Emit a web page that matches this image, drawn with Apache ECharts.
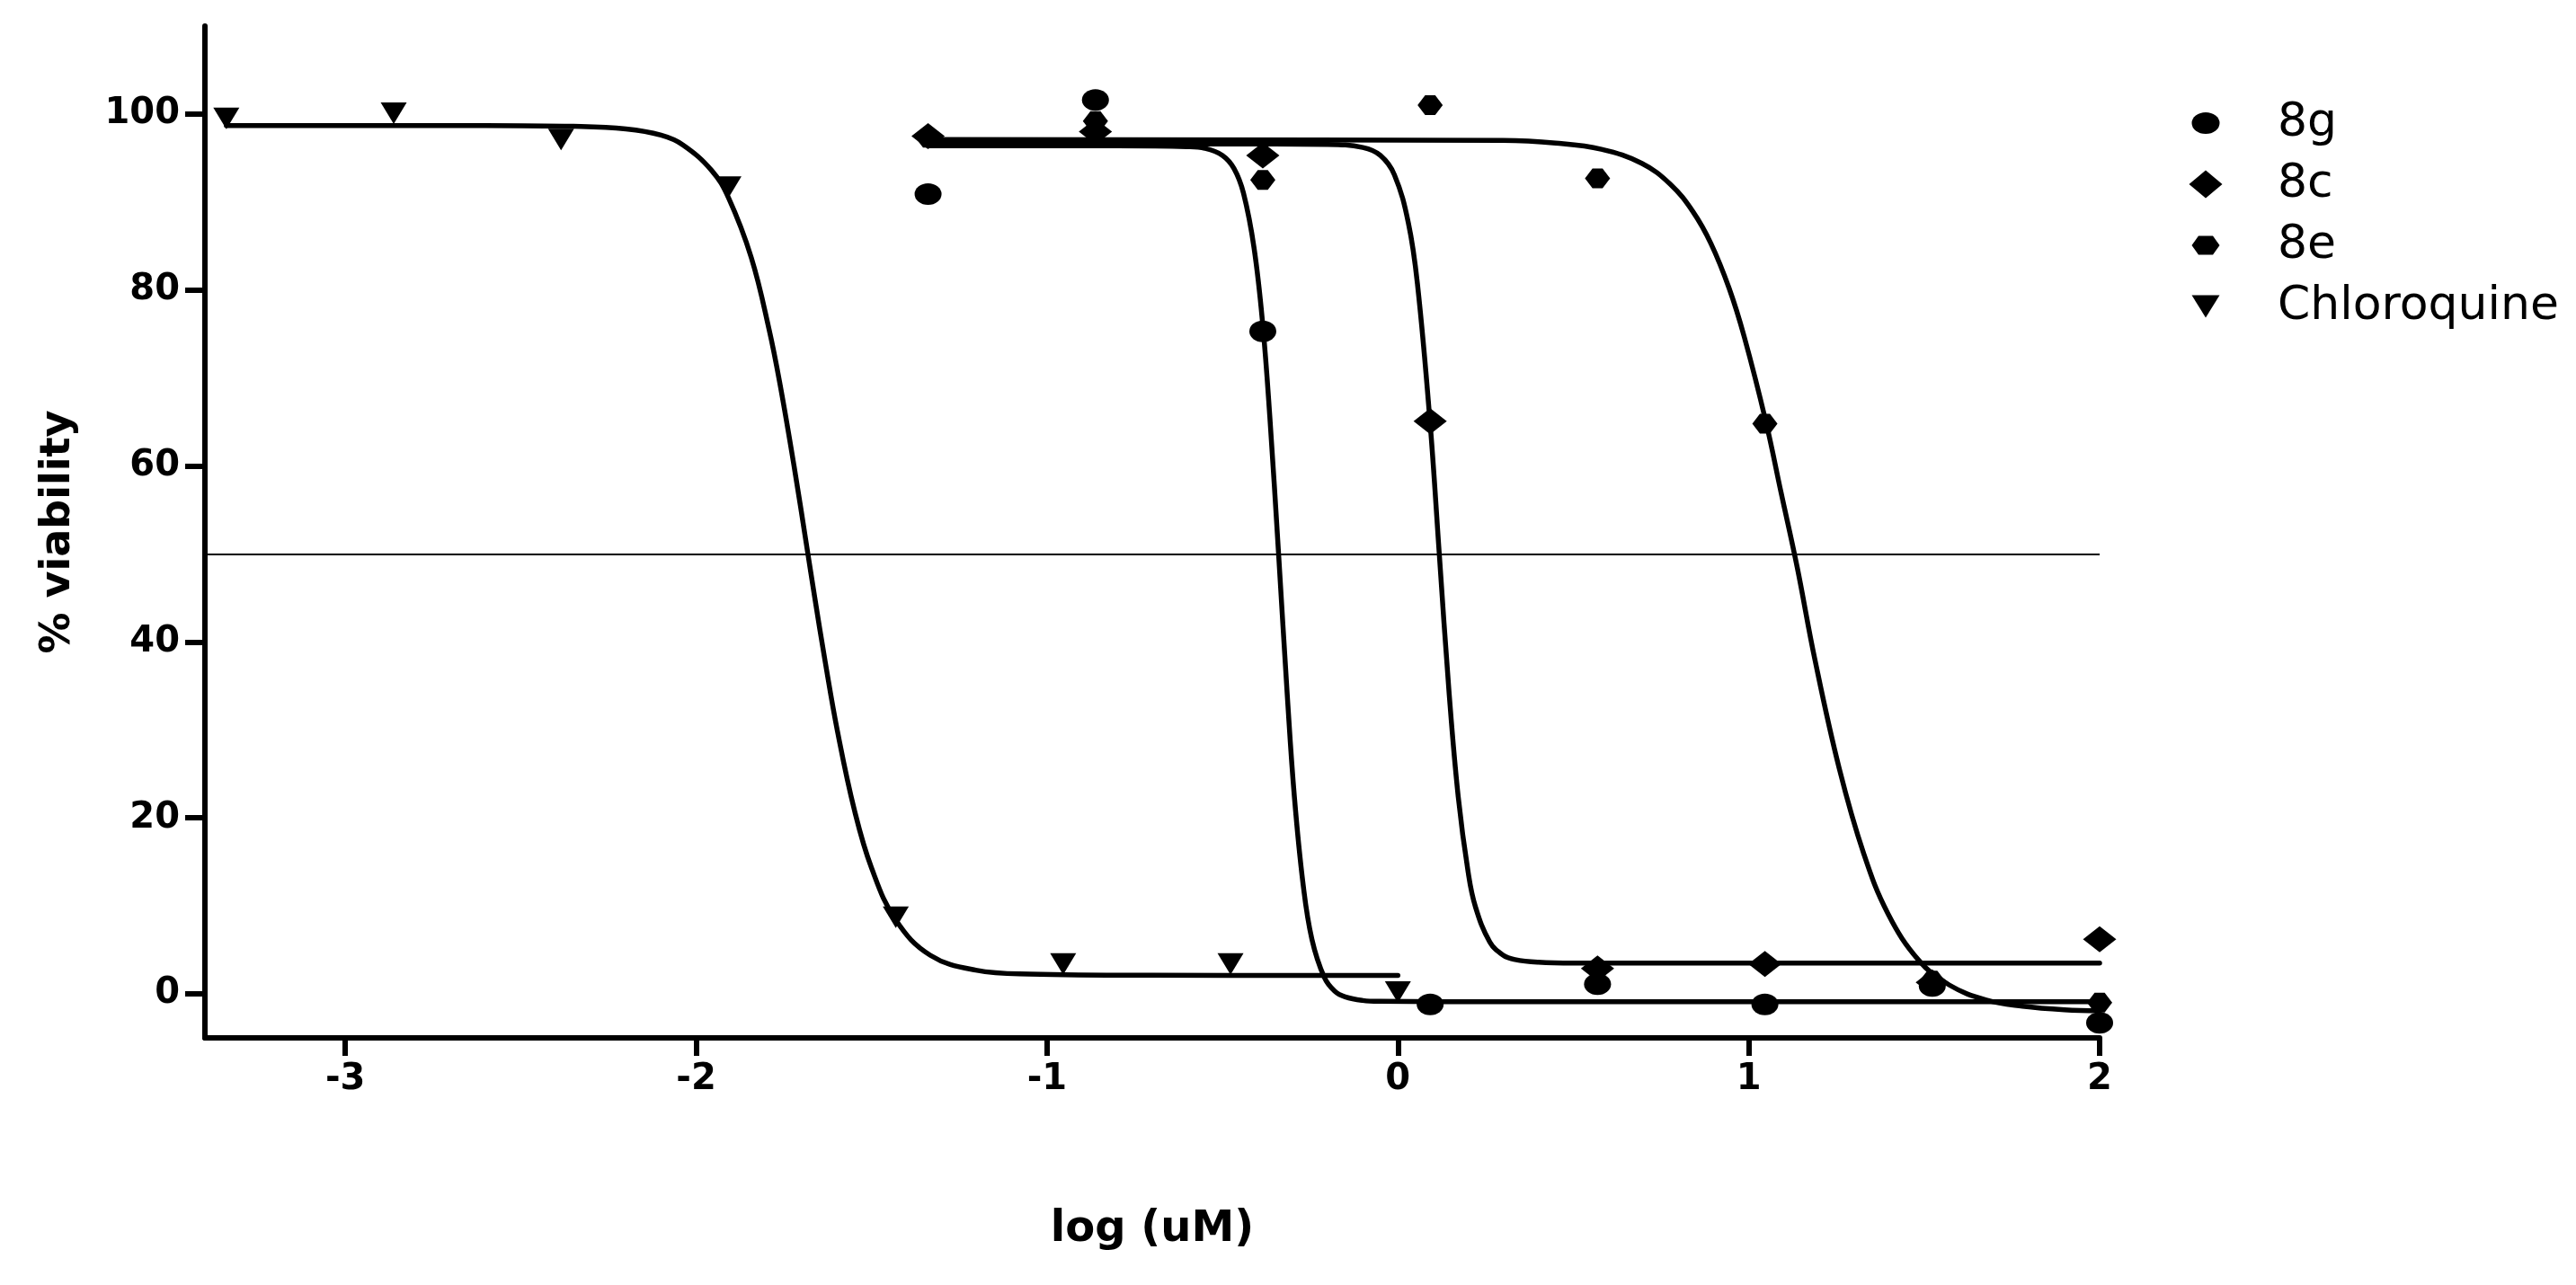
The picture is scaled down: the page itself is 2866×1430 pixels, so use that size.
<!DOCTYPE html>
<html><head><meta charset="utf-8">
<script src="https://cdn.jsdelivr.net/npm/echarts@6/dist/echarts.min.js"></script>
<style>html,body{margin:0;padding:0;background:#fff}#c{width:2866px;height:1430px}</style>
</head><body><div id="c"></div>
<script>
// ---- data ----
const seriesNames = ['8g', '8c', '8e', 'Chloroquine'];
const logConc = [-1.339, -0.862, -0.385, 0.092, 0.569, 1.046, 1.523, 2.0];
const chloroLogConc = [-3.339, -2.862, -2.385, -1.908, -1.431, -0.954, -0.477, 0];
const viab8g = [90.9, 101.6, 75.3, -1.2, 1.1, -1.2, 0.9, -3.3];
const viab8c = [97.5, 98.0, 95.3, 65.1, 2.9, 3.4, 1.3, 6.2];
const viab8e = [97.3, 99.2, 92.5, 101.0, 92.7, 64.8, 1.5, -1.0];
const viabChloro = [99.5, 100.1, 97.1, 91.7, 8.7, 3.4, 3.4, 0.2];

// fitted curves, points
const fit8g = [[-1.339,96.4],[-0.8,96.4],[-0.6,96.3],[-0.55,96.1],[-0.5,95.3],[-0.467,93.8],[-0.44,91.0],[-0.41,84.8],[-0.385,76.0],[-0.365,65.6],[-0.34,50],[-0.315,33.8],[-0.295,22.4],[-0.27,12.4],[-0.245,6.2],[-0.21,1.9],[-0.18,0.3],[-0.15,-0.35],[-0.1,-0.75],[-0.05,-0.85],[0.3,-0.9],[2.0,-0.9]];
const fit8c = [[-1.339,96.6],[-0.5,96.6],[-0.2,96.55],[-0.1,96.2],[-0.05,95.3],[-0.01,93.1],[0.03,87.6],[0.056,80.6],[0.092,64.8],[0.118,50],[0.146,34.2],[0.172,22.4],[0.2,13.9],[0.221,9.9],[0.262,5.9],[0.3,4.4],[0.334,3.9],[0.4,3.6],[0.5,3.5],[2.0,3.5]];
const fit8e = [[-1.339,97.1],[0.3,97.0],[0.45,96.7],[0.58,96.0],[0.695,94.4],[0.777,92.0],[0.841,88.9],[0.892,85.3],[0.944,80.2],[0.987,74.7],[1.049,65.0],[1.092,57.0],[1.138,48.5],[1.188,38.1],[1.258,25.6],[1.328,15.9],[1.397,9.1],[1.485,3.8],[1.572,1.0],[1.677,-0.7],[1.78,-1.4],[1.9,-1.8],[2.0,-1.9]];
const fitChloro = [[-3.339,98.7],[-2.6,98.7],[-2.35,98.6],[-2.2,98.3],[-2.1,97.6],[-2.038,96.5],[-1.956,93.6],[-1.908,90.5],[-1.843,83.7],[-1.792,75.5],[-1.761,69.3],[-1.721,60.0],[-1.683,50.4],[-1.663,45.3],[-1.632,37.7],[-1.597,29.8],[-1.549,20.9],[-1.5,14.3],[-1.431,8.4],[-1.333,4.4],[-1.203,2.7],[-1.05,2.25],[-0.7,2.12],[0,2.1]];

const xTicks = [-3, -2, -1, 0, 1, 2];
const yTicks = [0, 20, 40, 60, 80, 100];
const halfLevel = 50;
const xTitle = 'log (uM)';
const yTitle = '% viability';

// ---- symbols ----
const symEllipse = 'path://M0,5 A5,5 0 1,1 10,5 A5,5 0 1,1 0,5 Z';
const symDiamond = 'path://M0,5 L5,0 L10,5 L5,10 Z';
const symHex = 'path://M0,5 L3,0 L7,0 L10,5 L7,10 L3,10 Z';
const symTri = 'path://M0,0 L10,0 L5,10 Z';
// legend icons on a common 40x32 frame
const legEllipse = 'path://M0,0 M40,32 M4.5,16 A15.5,12 0 1,1 35.5,16 A15.5,12 0 1,1 4.5,16 Z';
const legDiamond = 'path://M0,0 M40,32 M1.5,16 L20,0.5 L38.5,16 L20,31.5 Z';
const legHex = 'path://M0,0 M40,32 M4.5,16 L12,5.5 L28,5.5 L35.5,16 L28,26.5 L12,26.5 Z';
const legTri = 'path://M0,0 M40,32 M4.5,3.5 L35.5,3.5 L20,28.5 Z';

function pairs(xs, ys) { return xs.map((x, i) => [x, ys[i]]); }

const black = '#000';
function fitLine(name, data, extra) {
  return Object.assign({
    name: name, type: 'line', data: data, smooth: 0.4,
    showSymbol: false, symbol: 'none', silent: true, z: 2,
    lineStyle: { color: black, width: 5.5, cap: 'round', join: 'round', opacity: 1 }
  }, extra || {});
}
function pts(name, data, symbol, size) {
  return { name: name, type: 'scatter', data: data, symbol: symbol, symbolSize: size,
    itemStyle: { color: black, opacity: 1 }, z: 5, silent: true };
}

const chart = echarts.init(document.getElementById('c'), null, { renderer: 'canvas' });
chart.setOption({
  animation: false,
  backgroundColor: '#fff',
  grid: { left: 228, right: 530, top: 29, bottom: 275 },
  xAxis: {
    type: 'value', min: -3.4, max: 2,
    axisLine: { onZero: false, lineStyle: { color: black, width: 6 } },
    axisTick: { show: true, length: 20, lineStyle: { color: black, width: 6 }, customValues: xTicks },
    axisLabel: { customValues: xTicks, margin: 27, color: black, fontFamily: 'DejaVu Sans', fontWeight: 'bold', fontSize: 40 },
    splitLine: { show: false },
    name: xTitle, nameLocation: 'middle', nameGap: 190,
    nameTextStyle: { color: black, fontFamily: 'DejaVu Sans', fontWeight: 'bold', fontSize: 48 }
  },
  yAxis: {
    type: 'value', min: -5, max: 110,
    axisLine: { onZero: false, lineStyle: { color: black, width: 6 } },
    axisTick: { show: true, length: 22, lineStyle: { color: black, width: 6 }, customValues: yTicks },
    axisLabel: { customValues: yTicks, margin: 28, color: black, fontFamily: 'DejaVu Sans', fontWeight: 'bold', fontSize: 40 },
    splitLine: { show: false },
    name: yTitle, nameLocation: 'middle', nameGap: 140, nameRotate: 90,
    nameTextStyle: { color: black, fontFamily: 'DejaVu Sans', fontWeight: 'bold', fontSize: 46 }
  },
  legend: {
    orient: 'vertical', left: 2429, top: 106, itemGap: 16, itemWidth: 40, itemHeight: 32,
    selectedMode: false,
    itemStyle: { opacity: 1, color: black },
    textStyle: { color: black, fontFamily: 'DejaVu Sans', fontSize: 52, lineHeight: 51, padding: [0, 0, 0, 55] },
    data: [
      { name: seriesNames[0], icon: legEllipse },
      { name: seriesNames[1], icon: legDiamond },
      { name: seriesNames[2], icon: legHex },
      { name: seriesNames[3], icon: legTri }
    ]
  },
  series: [
    fitLine('fit-chloro', fitChloro, {
      markLine: { silent: true, symbol: 'none', label: { show: false },
        lineStyle: { color: black, width: 2, type: 'solid' }, data: [{ yAxis: halfLevel }] }
    }),
    fitLine('fit-8g', fit8g),
    fitLine('fit-8c', fit8c),
    fitLine('fit-8e', fit8e),
    pts(seriesNames[0], pairs(logConc, viab8g), symEllipse, [30, 24]),
    pts(seriesNames[1], pairs(logConc, viab8c), symDiamond, [37, 29]),
    pts(seriesNames[2], pairs(logConc, viab8e), symHex, [28, 22]),
    pts(seriesNames[3], pairs(chloroLogConc, viabChloro), symTri, [29, 24])
  ]
});
</script></body></html>
